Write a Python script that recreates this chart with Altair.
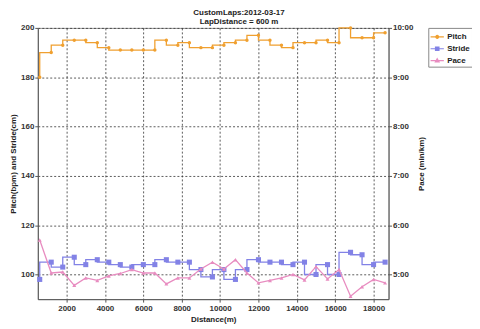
import altair as alt
import pandas as pd

# ---- data ----
distance = [600, 1200, 1800, 2400, 3000, 3600, 4200, 4800, 5400, 6000,
            6600, 7200, 7800, 8400, 9000, 9600, 10200, 10800, 11400, 12000,
            12600, 13200, 13800, 14400, 15000, 15600, 16200, 16800, 17400, 18000,
            18600]
pitch = [180, 190, 193, 195, 195, 194, 192, 191, 191, 191,
         191, 195, 193, 194, 192, 192, 193, 194, 195, 197,
         195, 193, 192, 194, 194, 195, 194, 200, 196, 196,
         198]
stride = [98, 105, 103, 107, 104, 106, 105, 104, 103, 104,
          104, 106, 105, 105, 102, 99, 102, 98, 102, 106,
          105, 105, 104, 105, 100, 104, 100, 109, 108, 104,
          105]
pace = [5.70, 5.03, 5.05, 4.78, 4.93, 4.88, 4.97, 5.02, 5.10, 5.03,
        5.03, 4.81, 4.93, 4.93, 5.11, 5.25, 5.11, 5.30, 5.03, 4.83,
        4.88, 4.93, 5.00, 4.89, 5.16, 4.91, 5.10, 4.56, 4.75, 4.90,
        4.83]

series_names = ["Pitch", "Stride", "Pace"]
series_colors = ["#F0A030", "#8282E6", "#E88CC0"]
x_ticks = [2000, 4000, 6000, 8000, 10000, 12000, 14000, 16000, 18000]
y_ticks = [100, 120, 140, 160, 180, 200]
pace_ticks = [5, 6, 7, 8, 9, 10]

df = pd.DataFrame({"distance": distance, "Pitch": pitch,
                   "Stride": stride, "Pace": pace})
legend_df = pd.DataFrame({"series": series_names})

FONT = "Liberation Sans"
ORANGE, BLUE, PINK = series_colors

x_enc = alt.X("distance:Q",
              scale=alt.Scale(domain=[500, 18780], nice=False, zero=False),
              axis=alt.Axis(values=x_ticks, format="d", title="Distance(m)",
                            grid=True, tickSize=3, labelPadding=2,
                            titlePadding=3))

y_scale = alt.Scale(domain=[90, 200], nice=False, zero=False)
y_axis = alt.Axis(values=y_ticks, title="Pitch(bpm) and Stride(cm)",
                  grid=True, tickSize=3, labelPadding=1, titlePadding=3)

base = alt.Chart(df)

pitch_line = base.mark_line(interpolate="step-before", color=ORANGE,
                            strokeWidth=1.3).encode(
    x=x_enc, y=alt.Y("Pitch:Q", scale=y_scale, axis=y_axis))
pitch_pts = base.mark_point(filled=True, shape="circle", size=12,
                            color=ORANGE, opacity=1).encode(
    x="distance:Q", y="Pitch:Q")
stride_line = base.mark_line(interpolate="step-before", color=BLUE,
                             strokeWidth=1.3).encode(
    x="distance:Q", y="Stride:Q")
stride_pts = base.mark_point(filled=True, shape="square", size=26,
                             color=BLUE, opacity=1).encode(
    x="distance:Q", y="Stride:Q")

paths = [
    "M-1,0H1M-0.22,0A0.22,0.22,0,1,0,0.22,0A0.22,0.22,0,1,0,-0.22,0Z",
    "M-1,0H1M-0.26,-0.26H0.26V0.26H-0.26Z",
    "M-1,0H1M0,-0.3L0.28,0.2H-0.28Z",
]
legend_layer = alt.Chart(legend_df).transform_filter("false").mark_point(
    filled=True, strokeWidth=1.2).encode(
    shape=alt.Shape("series:N", scale=alt.Scale(domain=series_names, range=paths),
                    title=None),
    fill=alt.Fill("series:N", scale=alt.Scale(domain=series_names, range=series_colors),
                  title=None),
    stroke=alt.Stroke("series:N", scale=alt.Scale(domain=series_names, range=series_colors),
                      title=None),
)

left = alt.layer(pitch_line, pitch_pts, stride_line, stride_pts, legend_layer)

pace_scale = alt.Scale(domain=[4.5, 10], nice=False, zero=False)
pace_axis = alt.Axis(orient="right", values=pace_ticks,
                     labelExpr="datum.value + ':00'", title="Pace (min/km)",
                     titleAngle=270, titleBaseline="top", grid=False,
                     tickSize=3, labelPadding=1, titlePadding=5)
pace_line = base.mark_line(color=PINK, strokeWidth=1.3).encode(
    x="distance:Q", y=alt.Y("Pace:Q", scale=pace_scale, axis=pace_axis))
pace_pts = base.mark_point(filled=True, shape="triangle-up", size=16,
                           color=PINK, opacity=1).encode(
    x="distance:Q", y="Pace:Q")
right = alt.layer(pace_line, pace_pts)

chart = alt.layer(left, right).resolve_scale(y="independent").properties(
    width=353, height=273,
    autosize=alt.AutoSizeParams(type="none"),
    padding={"left": 30, "top": 19, "right": 84, "bottom": 26},
    title=alt.TitleParams(
        text=["CustomLaps:2012-03-17", "LapDistance = 600 m"],
        fontSize=8, fontWeight="bold", font=FONT, color="#222222",
        anchor="middle", frame="group", dx=26, offset=-2, lineHeight=9),
).configure(background="white").configure_view(
    stroke="#999999", strokeWidth=1
).configure_axis(
    domainColor="#555555", tickColor="#555555", labelFont=FONT,
    labelFontSize=8, labelFontWeight="bold", labelColor="#333333",
    titleFont=FONT, titleFontSize=8, titleFontWeight="bold",
    titleColor="#222222", gridColor="#333333", gridDash=[2, 2],
    gridWidth=0.8, gridOpacity=1
).configure_legend(
    orient="none", legendX=393, legendY=0, padding=1.5,
    strokeColor="#888888", fillColor="white", symbolSize=178,
    symbolStrokeWidth=1.2, symbolOpacity=1, labelFont=FONT,
    labelFontSize=8, labelFontWeight="bold", labelColor="#222222",
    labelOffset=2.5, rowPadding=0, titlePadding=0
)

chart.save("out.html", embed_options={"renderer": "svg", "actions": False})
